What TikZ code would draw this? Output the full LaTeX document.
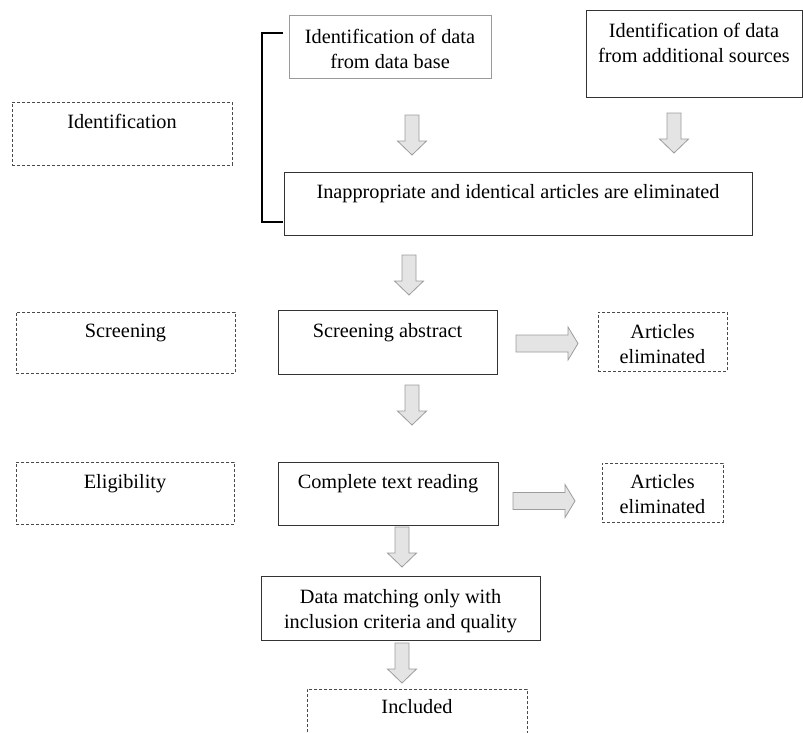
\documentclass[tikz,border=0pt]{standalone}
\usepackage{fontspec}
\setmainfont{Liberation Serif}
\definecolor{boxline}{HTML}{333333}
\definecolor{lightline}{HTML}{9A9A9A}
\definecolor{dashline}{HTML}{4A4A4A}
\definecolor{arrfill}{HTML}{E4E4E4}
\definecolor{arrline}{HTML}{9C9C9C}
\tikzset{
  sbox/.style={draw=boxline, line width=0.9pt, rectangle, inner sep=0pt, anchor=north west},
  lbox/.style={draw=lightline, line width=0.9pt, rectangle, inner sep=0pt, anchor=north west},
  dbox/.style={draw=dashline, line width=0.8pt, dash pattern=on 3pt off 2pt, rectangle, inner sep=0pt, anchor=north west},
  txt/.style={inner sep=0pt, align=center, font=\fontsize{20.3}{25.5}\selectfont},
  blockarrow/.style={fill=arrfill, draw=arrline, line width=0.8pt, line join=miter},
  darrow/.pic={\draw[blockarrow] (-7,0) -- (7,0) -- (7,26) -- (14.5,26) -- (0,40) -- (-14.5,26) -- (-7,26) -- cycle;},
  rarrow/.pic={\draw[blockarrow] (0,-8.5) -- (52,-8.5) -- (52,-16.5) -- (62,0) -- (52,16.5) -- (52,8.5) -- (0,8.5) -- cycle;}
}
\begin{document}
\begin{tikzpicture}[x=1pt,y=-1pt]
\useasboundingbox (0,0) rectangle (803,732);
\clip (0,0) rectangle (803,732);
\fill[white] (0,0) rectangle (803,732);

% boxes
\node[lbox, minimum width=202pt, minimum height=63pt] (db) at (289,15) {};
\node[txt, anchor=north] (dbt) at (390,29) {Identification of data\\from data base};

\node[sbox, minimum width=216pt, minimum height=87pt] (add) at (586,10) {};
\node[txt, anchor=north] (addt) at (694,23) {Identification of data\\from additional sources};

\node[dbox, minimum width=220pt, minimum height=63pt] (idn) at (12,102) {};
\node[txt, anchor=base] (idnt) at (122,128) {Identification};

\node[sbox, minimum width=468pt, minimum height=63pt] (elim) at (284,172) {};
\node[txt, anchor=base] (elimt) at (518,198) {Inappropriate and identical articles are eliminated};

\node[dbox, minimum width=219pt, minimum height=61pt] (scr) at (16,312) {};
\node[txt, anchor=base] (scrt) at (125.5,337) {Screening};

\node[sbox, minimum width=219pt, minimum height=64pt] (sab) at (278,310) {};
\node[txt, anchor=base] (sabt) at (387.5,337) {Screening abstract};

\node[dbox, minimum width=129pt, minimum height=59pt] (ae1) at (598,312) {};
\node[txt, anchor=north] (ae1t) at (662.5,324) {Articles\\eliminated};

\node[dbox, minimum width=218pt, minimum height=62pt] (elg) at (16,462) {};
\node[txt, anchor=base] (elgt) at (125,488) {Eligibility};

\node[sbox, minimum width=220pt, minimum height=63pt] (ctr) at (278,462) {};
\node[txt, anchor=base] (ctrt) at (388,488) {Complete text reading};

\node[dbox, minimum width=121pt, minimum height=59pt] (ae2) at (602,463) {};
\node[txt, anchor=north] (ae2t) at (662.5,474) {Articles\\eliminated};

\node[sbox, minimum width=279pt, minimum height=64pt] (dm) at (261,576) {};
\node[txt, anchor=north] (dmt) at (400.5,589) {Data matching only with\\inclusion criteria and quality};

\node[dbox, minimum width=220pt, minimum height=60pt] (inc) at (307,689) {};
\node[txt, anchor=base] (inct) at (417,713) {Included};

% bracket
\draw[black, line width=1.3pt] (283,33) -- (262,33) -- (262,222) -- (283,222);

% block arrows
\pic at (412,115) {darrow};
\pic at (674,113) {darrow};
\pic at (409,255) {darrow};
\pic at (412,385) {darrow};
\pic at (402,527) {darrow};
\pic at (402,643) {darrow};
\pic at (516,343.5) {rarrow};
\pic at (513,501) {rarrow};
\end{tikzpicture}
\end{document}
